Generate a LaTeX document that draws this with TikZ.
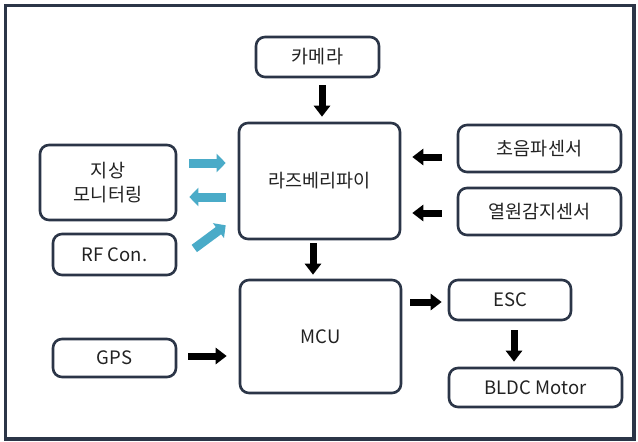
\documentclass[tikz,border=0pt]{standalone}
\usepackage{fontspec}
\setmainfont{Noto Sans CJK KR}
\usetikzlibrary{arrows.meta,calc}
\definecolor{navy}{HTML}{2B3547}
\definecolor{txt}{HTML}{222222}
\definecolor{teal}{HTML}{4AABC8}
\tikzset{
  box/.style={draw=navy, line width=2.6pt, rounded corners=9pt, fill=white,
    text=txt, font=\fontsize{18.5}{24}\selectfont, align=center, inner sep=0pt},
  blk/.style={draw=black, line width=7pt,
    -{Triangle[length=11pt,width=16pt]}},
  blu/.style={draw=teal, line width=9pt,
    -{Triangle[length=9pt,width=18pt]}}
}
\begin{document}
\begin{tikzpicture}[x=1pt,y=-1pt]
\useasboundingbox (0,0) rectangle (638,442);
\fill[white] (0,0) rectangle (638,442);
\draw[navy, line width=3.5pt] (5.5,5.5) rectangle (634,439);

\node[box, minimum width=123pt, minimum height=40pt] (cam) at (317.5,57) {카메라};
\node[box, minimum width=161pt, minimum height=116pt] (rpi) at (319.5,181) {라즈베리파이};
\node[box, minimum width=163pt, minimum height=47pt] (us) at (539.5,148.5) {초음파센서};
\node[box, minimum width=163pt, minimum height=47pt] (heat) at (539.5,211.5) {열원감지센서};
\node[box, minimum width=136pt, minimum height=75pt] (gnd) at (108,182.5) {지상\\모니터링};
\node[box, minimum width=123pt, minimum height=41pt] (rf) at (114.5,254.5) {RF Con.};
\node[box, minimum width=161pt, minimum height=113pt] (mcu) at (320.5,336.5) {MCU};
\node[box, minimum width=123pt, minimum height=38pt] (gps) at (114.5,358) {GPS};
\node[box, minimum width=122pt, minimum height=40pt] (esc) at (510,300) {ESC};
\node[box, minimum width=173pt, minimum height=39pt] (bldc) at (535.5,387.5) {BLDC Motor};

% black arrows
\draw[blk, shorten <=7pt, shorten >=5pt] ([xshift=4.5pt]cam.south) -- ([xshift=4.5pt]cam.south |- rpi.north);
\draw[blk, shorten <=15pt, shorten >=11pt] ([yshift=-8.5pt]us.west) -- ([yshift=-8.5pt]us.west -| rpi.east);
\draw[blk, shorten <=15pt, shorten >=11pt] ([yshift=-1.5pt]heat.west) -- ([yshift=-1.5pt]heat.west -| rpi.east);
\draw[blk, shorten <=3pt, shorten >=4pt] ([xshift=-6.5pt]rpi.south) -- ([xshift=-6.5pt]rpi.south |- mcu.north);
\draw[blk, shorten <=8pt, shorten >=6pt] ([yshift=-2pt]esc.west -| mcu.east) -- ([yshift=-2pt]esc.west);
\draw[blk, shorten <=9pt, shorten >=5pt] ([xshift=4pt]esc.south) -- ([xshift=4pt]esc.south |- bldc.north);
\draw[blk, shorten <=11pt, shorten >=12pt] ([yshift=2pt]gps.east) -- ([yshift=2pt]gps.east -| mcu.west);

% blue arrows
\draw[blu, shorten <=12pt, shorten >=12pt] ([yshift=19.5pt]gnd.east) -- ([yshift=19.5pt]gnd.east -| rpi.west);
\draw[blu, shorten <=12pt, shorten >=12pt] ([yshift=-14.5pt]gnd.east -| rpi.west) -- ([yshift=-14.5pt]gnd.east);
\draw[blu] ($(rf.east)+(17,-6)$) -- ($(rpi.south west)+(-12,-15)$);
\end{tikzpicture}
\end{document}
